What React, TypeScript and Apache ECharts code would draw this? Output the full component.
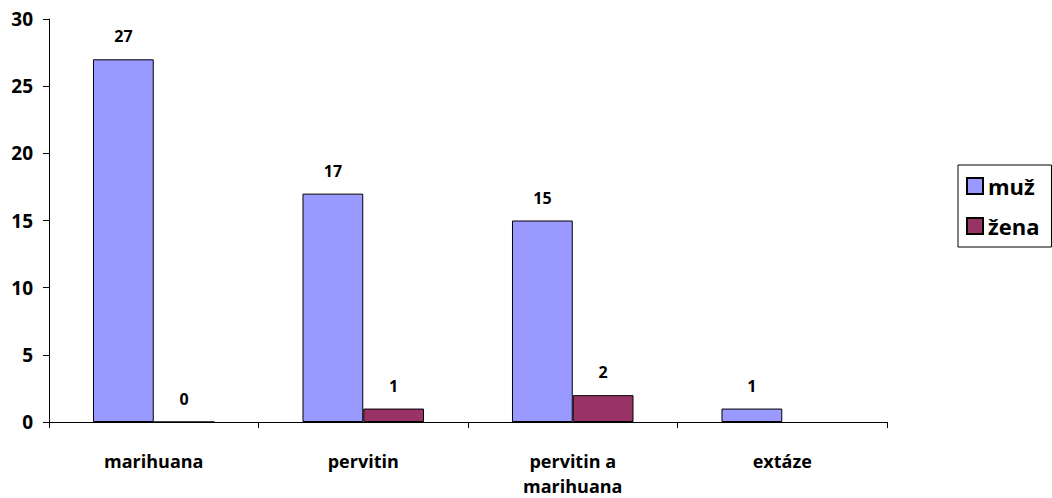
import React, { useEffect, useRef } from "react";
import * as echarts from "echarts";

const categories = ["marihuana", "pervitin", "pervitin a\nmarihuana", "extáze"];
const seriesNames = ["muž", "žena"];
const muzValues = [27, 17, 15, 1];
const zenaValues = [0, 1, 2, null];
const yTicks = { min: 0, max: 30, interval: 5 };

const FONT = "'Open Sans', 'Liberation Sans', Arial, sans-serif";

export default function App() {
  const ref = useRef<HTMLDivElement>(null);
  useEffect(() => {
    if (!ref.current) return;
    const chart = echarts.init(ref.current, null, { renderer: "svg" });
    const label = {
      show: true,
      position: "top",
      distance: 15,
      color: "#000",
      fontWeight: "bold",
      fontSize: 16,
      fontFamily: FONT,
    };
    chart.setOption({
      animation: false,
      backgroundColor: "#fff",
      textStyle: { fontFamily: FONT },
      grid: { left: 49, right: 165, top: 19, bottom: 74, containLabel: false },
      legend: {
        orient: "vertical",
        left: 958,
        top: 165,
        data: seriesNames,
        itemWidth: 16,
        itemHeight: 16,
        itemGap: 18,
        borderColor: "#000",
        borderWidth: 1,
        padding: [10, 12, 10, 8],
        icon: "rect",
        textStyle: { fontSize: 22, fontWeight: "bold", color: "#000", fontFamily: FONT },
      },
      xAxis: {
        type: "category",
        data: categories,
        axisLine: { lineStyle: { color: "#000", width: 1 } },
        axisTick: { show: true, alignWithLabel: false, length: 6, lineStyle: { color: "#000" } },
        axisLabel: {
          color: "#000",
          fontWeight: "bold",
          fontSize: 18,
          margin: 26,
          lineHeight: 25,
          fontFamily: FONT,
        },
      },
      yAxis: {
        type: "value",
        min: yTicks.min,
        max: yTicks.max,
        interval: yTicks.interval,
        axisLine: { show: true, lineStyle: { color: "#000", width: 1 } },
        axisTick: { show: true, length: 6, lineStyle: { color: "#000" } },
        splitLine: { show: false },
        axisLabel: {
          color: "#000",
          fontWeight: "bold",
          fontSize: 19,
          margin: 16,
          fontFamily: FONT,
        },
      },
      series: [
        {
          name: seriesNames[0],
          type: "bar",
          data: muzValues,
          barGap: "0%",
          barCategoryGap: "42%",
          itemStyle: { color: "#9999FF", borderColor: "#000", borderWidth: 1 },
          label,
        },
        {
          name: seriesNames[1],
          type: "bar",
          data: zenaValues,
          itemStyle: { color: "#993366", borderColor: "#000", borderWidth: 1 },
          label,
        },
      ],
    });
    return () => chart.dispose();
  }, []);
  return (
    <div
      ref={ref}
      style={{ position: "fixed", left: 0, top: 0, width: 1052, height: 498 }}
    />
  );
}
